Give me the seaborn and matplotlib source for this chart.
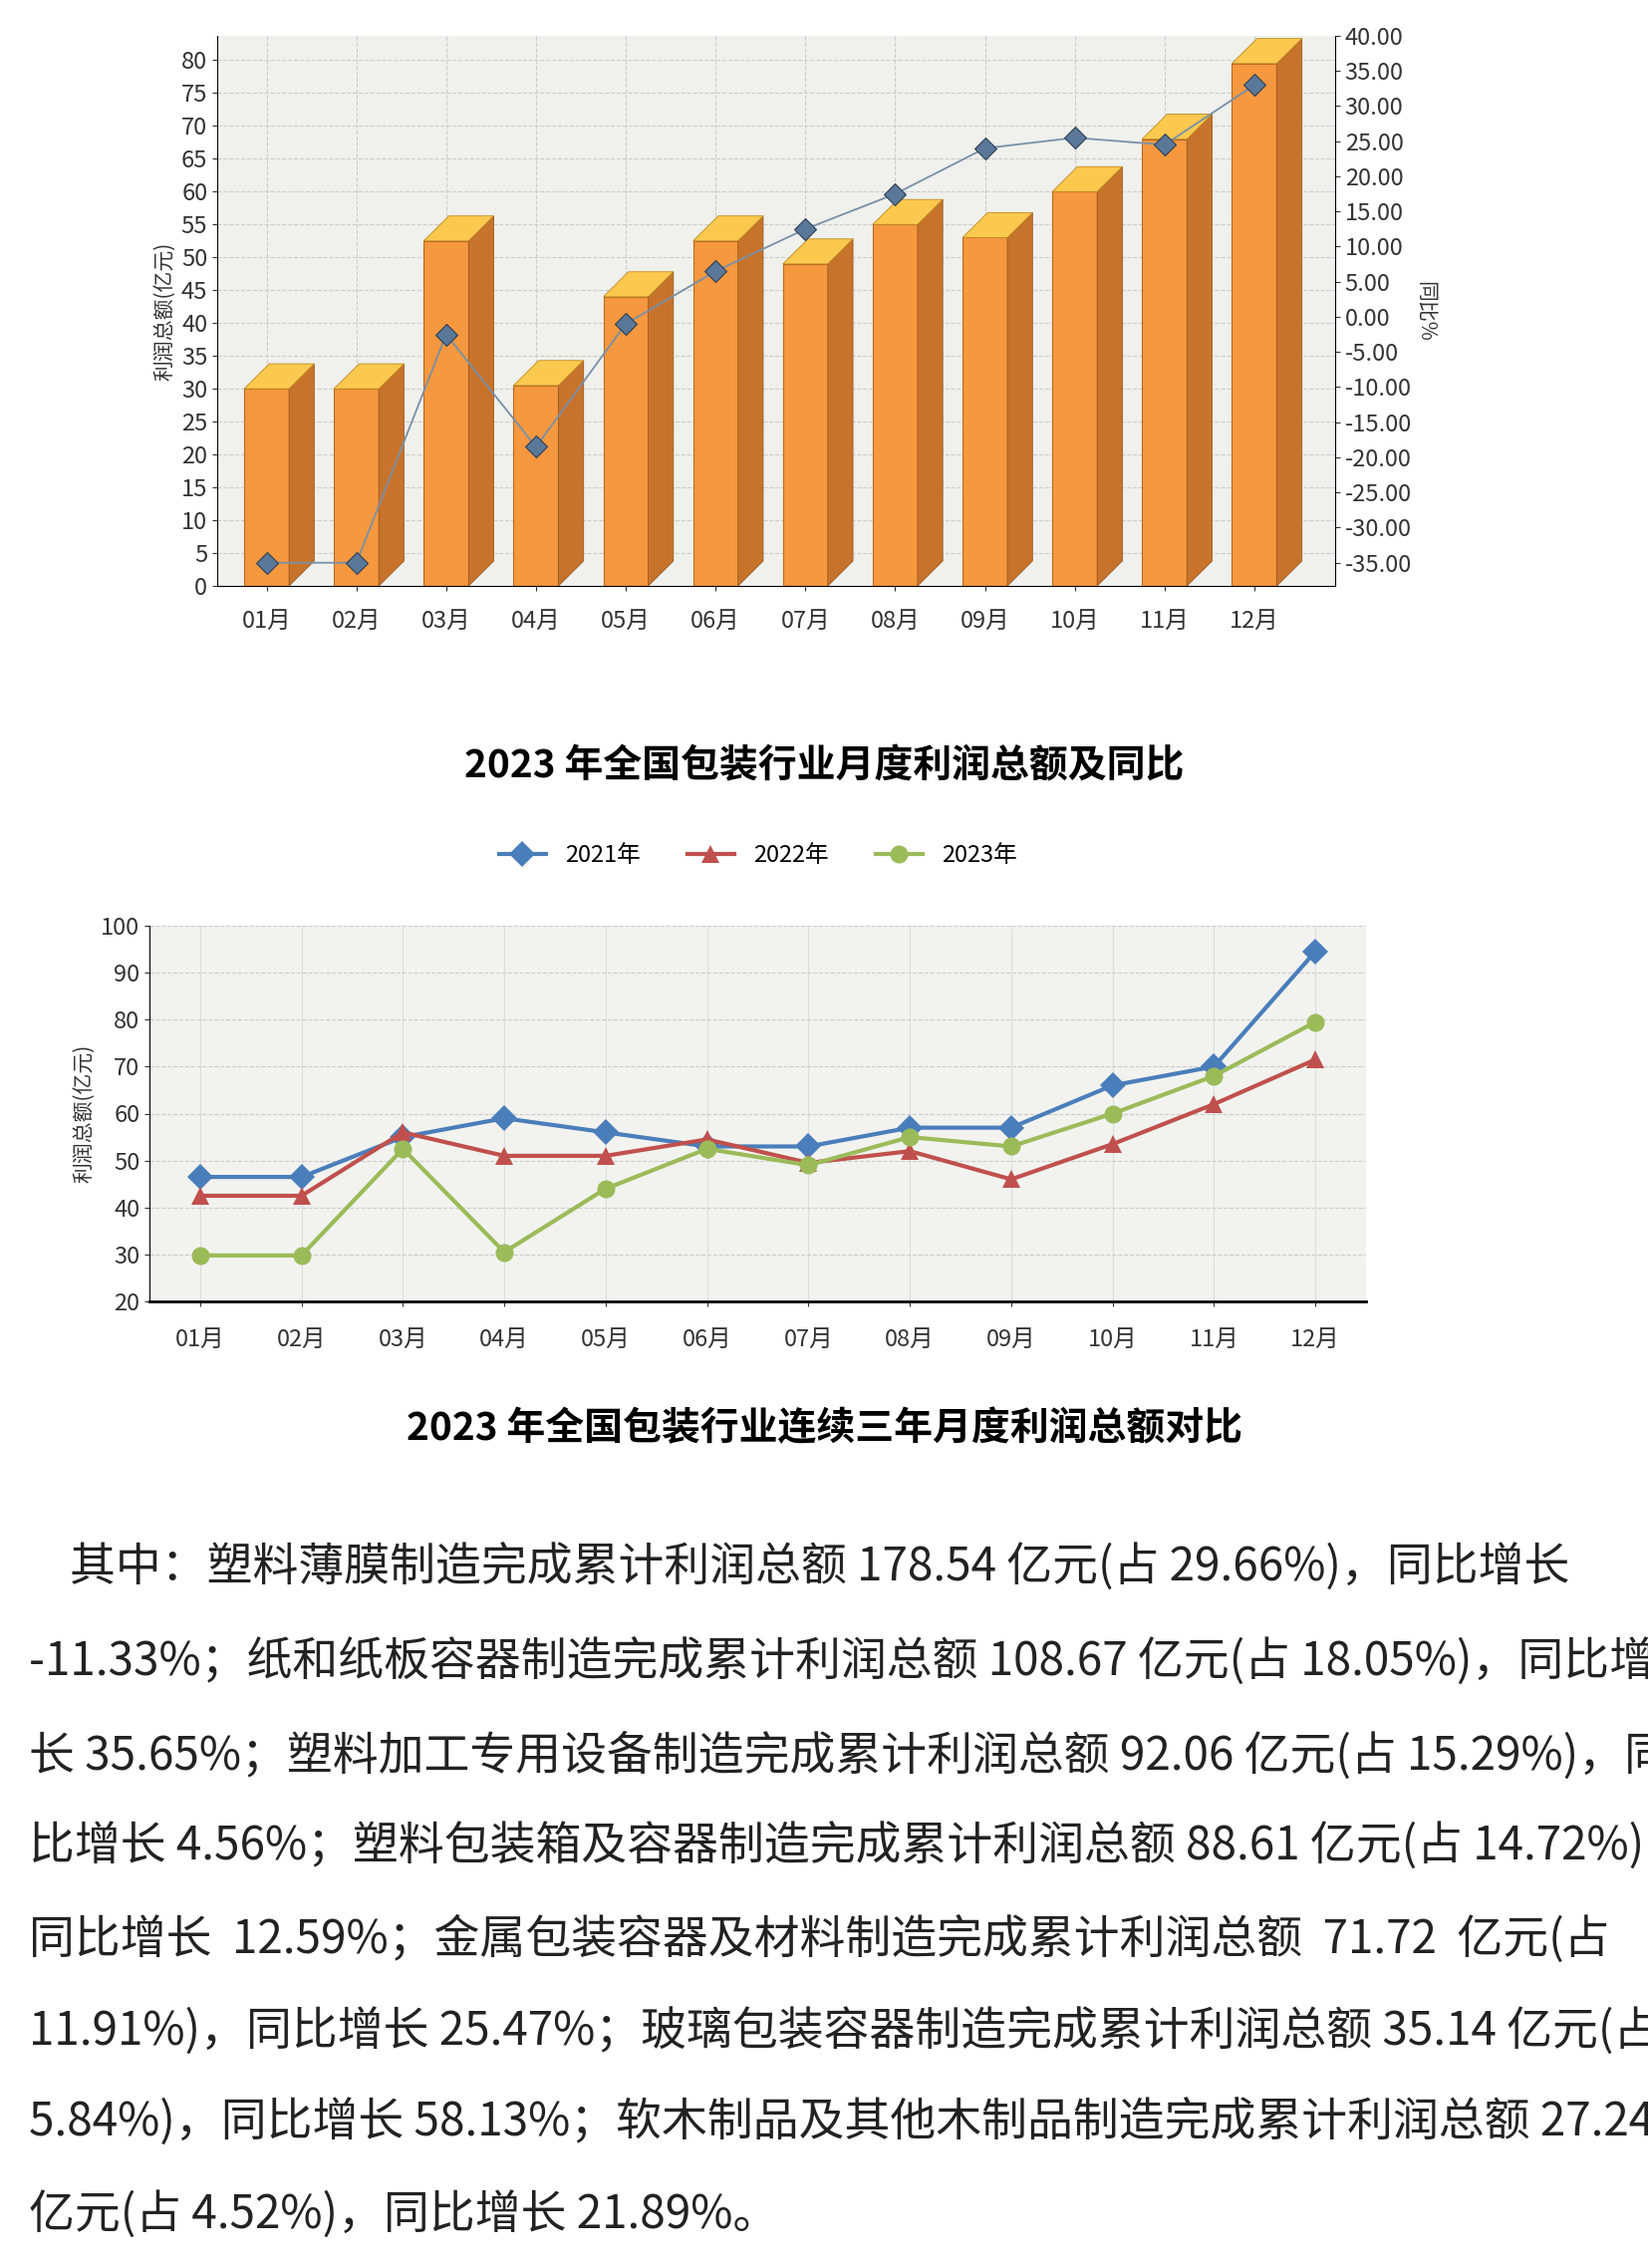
import numpy as np
import pandas as pd
import matplotlib
matplotlib.use("Agg")
import matplotlib.pyplot as plt
from matplotlib.patches import Polygon
import seaborn as sns

plt.rcParams["font.family"] = ["Noto Sans CJK SC", "DejaVu Sans"]

months = ["01月", "02月", "03月", "04月", "05月", "06月", "07月", "08月", "09月", "10月", "11月", "12月"]
profit_2023 = [30, 30, 52.5, 30.5, 44, 52.5, 49, 55, 53, 60, 68, 79.5]
yoy_2023 = [-35, -35, -2.5, -18.5, -1, 6.5, 12.5, 17.5, 24, 25.5, 24.5, 33]
line_2021 = [46.5, 46.5, 55, 59, 56, 53, 53, 57, 57, 66, 70, 94.5]
line_2022 = [42.5, 42.5, 56, 51, 51, 54.5, 49.5, 52, 46, 53.5, 62, 71.5]
line_2023 = [29.8, 29.8, 52.5, 30.5, 44, 52.5, 49, 55, 53, 60, 68, 79.5]

title1 = "2023 年全国包装行业月度利润总额及同比"
title2 = "2023 年全国包装行业连续三年月度利润总额对比"
para_lines = [
    "    其中：塑料薄膜制造完成累计利润总额 178.54 亿元(占 29.66%)，同比增长",
    "-11.33%；纸和纸板容器制造完成累计利润总额 108.67 亿元(占 18.05%)，同比增",
    "长 35.65%；塑料加工专用设备制造完成累计利润总额 92.06 亿元(占 15.29%)，同",
    "比增长 4.56%；塑料包装箱及容器制造完成累计利润总额 88.61 亿元(占 14.72%)，",
    "同比增长  12.59%；金属包装容器及材料制造完成累计利润总额  71.72  亿元(占",
    "11.91%)，同比增长 25.47%；玻璃包装容器制造完成累计利润总额 35.14 亿元(占",
    "5.84%)，同比增长 58.13%；软木制品及其他木制品制造完成累计利润总额 27.24",
    "亿元(占 4.52%)，同比增长 21.89%。",
]

W, H = 1654, 2276
fig = plt.figure(figsize=(W / 100, H / 100), dpi=100)
fig.patch.set_facecolor("white")

def rect(x0, y0, x1, y1):
    return [x0 / W, 1 - y1 / H, (x1 - x0) / W, (y1 - y0) / H]

# ---- chart 1: 3D-looking bars + yoy line
ax1 = fig.add_axes(rect(218, 36, 1340, 588))
ax1.set_facecolor("#f0f0ec")
df1 = pd.DataFrame({"month": months, "profit": profit_2023})
sns.barplot(data=df1, x="month", y="profit", color="#f5983f", width=0.5,
            edgecolor="#b86a20", linewidth=0.8, saturation=1, ax=ax1)
dx, dy = 0.28, 3.8
for p in list(ax1.patches):
    x, w, h = p.get_x(), p.get_width(), p.get_height()
    ax1.add_patch(Polygon([(x + w, 0), (x + w + dx, dy), (x + w + dx, h + dy), (x + w, h)],
                          closed=True, fc="#c8732c", ec="#9a5a20", lw=0.6, zorder=3))
    ax1.add_patch(Polygon([(x, h), (x + dx, h + dy), (x + w + dx, h + dy), (x + w, h)],
                          closed=True, fc="#fcc94f", ec="#c08a20", lw=0.6, zorder=3))
ax1.set_xlim(-0.55, 11.9)
ax1.set_ylim(0, 83.7)
ax1.set_yticks(range(0, 81, 5))
ax1.set_ylabel("利润总额(亿元)", fontsize=15, color="#333")
ax1.set_xlabel("")
ax1.tick_params(axis="both", labelsize=17, colors="#333")
ax1.tick_params(axis="x", pad=14)
ax1.grid(True, color="#cccccc", ls="--", lw=0.8)
ax1.set_axisbelow(True)
for s in ["top", "right"]:
    ax1.spines[s].set_visible(False)

ax1r = ax1.twinx()
sns.lineplot(x=np.arange(12), y=yoy_2023, ax=ax1r, color="#7890a8", lw=1.3,
             marker="D", markersize=11, markerfacecolor="#5a7898", markeredgecolor="#2a3a50")
ax1r.set_ylim(-38.3, 40)
ax1r.set_yticks(np.arange(-35, 41, 5))
ax1r.set_yticklabels([f"{v:.2f}" for v in np.arange(-35, 41, 5)])
ax1r.tick_params(axis="y", labelsize=17, colors="#333")
ax1r.set_ylabel("同比%", fontsize=15, rotation=270, labelpad=18, color="#333")
for s in ["top", "left", "bottom"]:
    ax1r.spines[s].set_visible(False)

fig.text(0.5, 1 - 769 / H, title1, ha="center", va="center", fontsize=28, fontweight="bold")

# ---- chart 2: three-year comparison
ax2 = fig.add_axes(rect(150, 929, 1371, 1306))
ax2.set_facecolor("#f2f3ef")
df2 = pd.DataFrame({"month": months * 3,
                    "value": line_2021 + line_2022 + line_2023,
                    "year": ["2021年"] * 12 + ["2022年"] * 12 + ["2023年"] * 12})
sns.lineplot(data=df2, x="month", y="value", hue="year", style="year",
             palette=["#4a7ebb", "#c0504d", "#9bbb59"], markers=["D", "^", "o"],
             dashes=False, markersize=13, lw=3, markeredgewidth=0, sort=False, ax=ax2)
ax2.set_ylim(20, 100)
ax2.set_xlim(-0.5, 11.5)
ax2.set_yticks(range(20, 101, 10))
ax2.set_ylabel("利润总额(亿元)", fontsize=15, color="#333")
ax2.set_xlabel("")
ax2.tick_params(axis="both", labelsize=17, colors="#333")
ax2.tick_params(axis="x", pad=16)
ax2.grid(True, axis="y", color="#cccccc", ls="--", lw=0.8)
ax2.grid(True, axis="x", color="#dddddd", lw=0.8)
for s in ["top", "right"]:
    ax2.spines[s].set_visible(False)
ax2.spines["bottom"].set_linewidth(2)
ax2.legend(loc="lower center", bbox_to_anchor=(0.5, 1.1), ncol=3, frameon=False,
           fontsize=17, handlelength=2)

fig.text(0.5, 1 - 1434 / H, title2, ha="center", va="center", fontsize=28, fontweight="bold")

# ---- paragraph
ys = [1574, 1669, 1763, 1854, 1947, 2040, 2131, 2223]
for line, y in zip(para_lines, ys):
    fig.text(29 / W, 1 - y / H, line, ha="left", va="center", fontsize=33,
             family="Noto Sans CJK SC", color="#222")

fig.savefig("out.png", dpi=100)
